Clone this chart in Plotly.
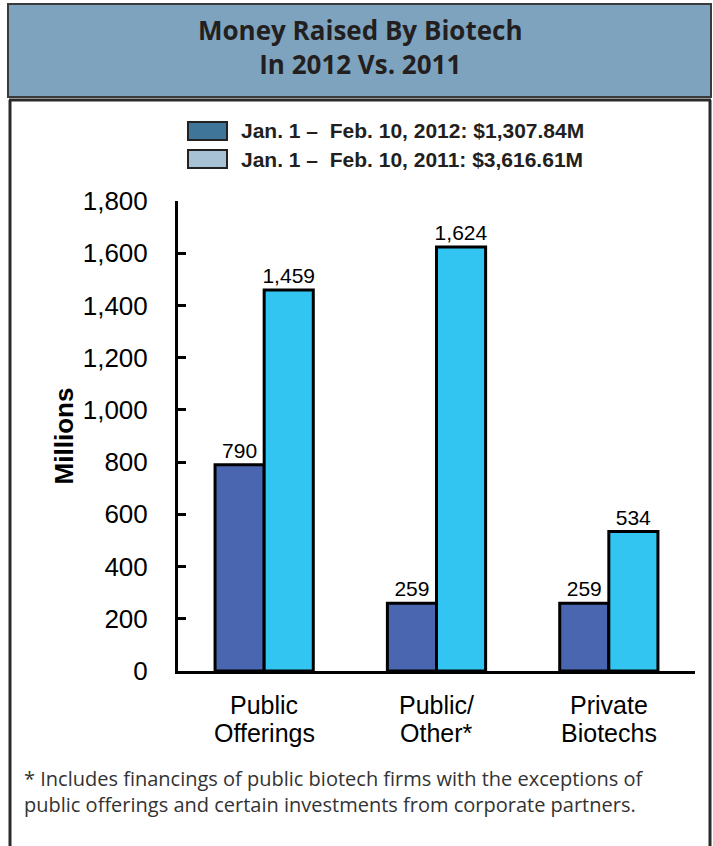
import plotly.graph_objects as go

categories = ["Public<br>Offerings", "Public/<br>Other*", "Private<br>Biotechs"]
values_2012 = [790, 259, 259]
values_2011 = [1459, 1624, 534]
labels_2012 = ["790", "259", "259"]
labels_2011 = ["1,459", "1,624", "534"]
legend_names = ["Jan. 1 \u2013  Feb. 10, 2012: $1,307.84M", "Jan. 1 \u2013  Feb. 10, 2011: $3,616.61M"]
tick_vals = [0, 200, 400, 600, 800, 1000, 1200, 1400, 1600, 1800]
tick_text = ["0", "200", "400", "600", "800", "1,000", "1,200", "1,400", "1,600", "1,800"]

W, H = 713, 846
L, R, T, B = 178, 695, 201, 671


def px(x):
    return (x - L) / (R - L)


def py(y):
    return (B - y) / (B - T)


fig = go.Figure()
fig.add_trace(go.Bar(
    x=categories, y=values_2012, text=labels_2012, textposition="outside",
    marker=dict(color="#4a66b0", line=dict(color="black", width=3)),
    showlegend=False, cliponaxis=False,
))
fig.add_trace(go.Bar(
    x=categories, y=values_2011, text=labels_2011, textposition="outside",
    marker=dict(color="#33c5f1", line=dict(color="black", width=3)),
    showlegend=False, cliponaxis=False,
))

shapes = []
annotations = []
# header box
shapes.append(dict(type="rect", xref="paper", yref="paper",
                   x0=px(8), x1=px(711), y0=py(4), y1=py(97),
                   fillcolor="#7ea3bf", line=dict(color="#3a3a3a", width=2), layer="below"))
# body frame
shapes.append(dict(type="line", xref="paper", yref="paper", x0=px(9), x1=px(711), y0=py(100), y1=py(100),
                   line=dict(color="#2a2a2a", width=3)))
shapes.append(dict(type="line", xref="paper", yref="paper", x0=px(10), x1=px(10), y0=py(100), y1=py(850),
                   line=dict(color="#2a2a2a", width=3)))
shapes.append(dict(type="line", xref="paper", yref="paper", x0=px(710), x1=px(710), y0=py(100), y1=py(850),
                   line=dict(color="#2a2a2a", width=3)))

annotations.append(dict(xref="paper", yref="paper", x=px(360), y=py(47),
                        text="<b>Money Raised By Biotech<br>In 2012 Vs. 2011</b>", showarrow=False,
                        font=dict(family="Open Sans", size=26, color="#231f20"),
                        align="center", xanchor="center", yanchor="middle"))

# legend
swatch_colors = ["#3e7599", "#a7c2d5"]
for i, (name, col) in enumerate(zip(legend_names, swatch_colors)):
    yc = 131 + i * 28
    shapes.append(dict(type="rect", xref="paper", yref="paper",
                       x0=px(188), x1=px(227), y0=py(yc - 9), y1=py(yc + 9),
                       fillcolor=col, line=dict(color="#222", width=2)))
    annotations.append(dict(xref="paper", yref="paper", x=px(239), y=py(yc),
                            text="<b>" + name + "</b>", showarrow=False,
                            font=dict(family="Liberation Sans", size=21, color="#231f20"),
                            xanchor="left", yanchor="middle"))

# category labels (two lines each, tight leading)
for cat in categories:
    lines = cat.split("<br>")
    for j, line in enumerate(lines):
        annotations.append(dict(xref="x", yref="paper", x=cat, y=py(705 + j * 28),
                                text=line, showarrow=False,
                                font=dict(family="Liberation Sans", size=25, color="black"),
                                xanchor="center", yanchor="middle"))

# footnote
annotations.append(dict(xref="paper", yref="paper", x=px(22), y=py(791),
                        text="* Includes financings of public biotech firms with the exceptions of<br>"
                             "public offerings and certain investments from corporate partners.",
                        showarrow=False, align="left",
                        font=dict(family="Open Sans", size=20, color="#333"),
                        xanchor="left", yanchor="middle"))

fig.update_layout(
    width=W, height=H,
    margin=dict(l=L, r=W - R, t=T, b=H - B),
    paper_bgcolor="white", plot_bgcolor="white",
    barmode="group", bargap=0.43, bargroupgap=0,
    font=dict(family="Liberation Sans", size=20, color="black"),
    uniformtext=dict(minsize=20, mode="show"),
    shapes=shapes, annotations=annotations,
    xaxis=dict(showline=True, linecolor="black", linewidth=3, ticks="",
               showticklabels=False, showgrid=False),
    yaxis=dict(range=[0, 1800], tickvals=tick_vals, ticktext=tick_text,
               showline=True, linecolor="black", linewidth=3,
               ticks="inside", ticklen=8, tickwidth=3, tickcolor="black",
               ticklabelstandoff=22, showgrid=False, zeroline=False,
               tickfont=dict(size=26, family="Liberation Sans"),
               title=dict(text="<b>Millions</b>", standoff=2,
                          font=dict(size=26, family="Liberation Sans"))),
)
fig.update_traces(textfont=dict(size=21, family="Liberation Sans", color="black"))

fig.write_html("out.html")
